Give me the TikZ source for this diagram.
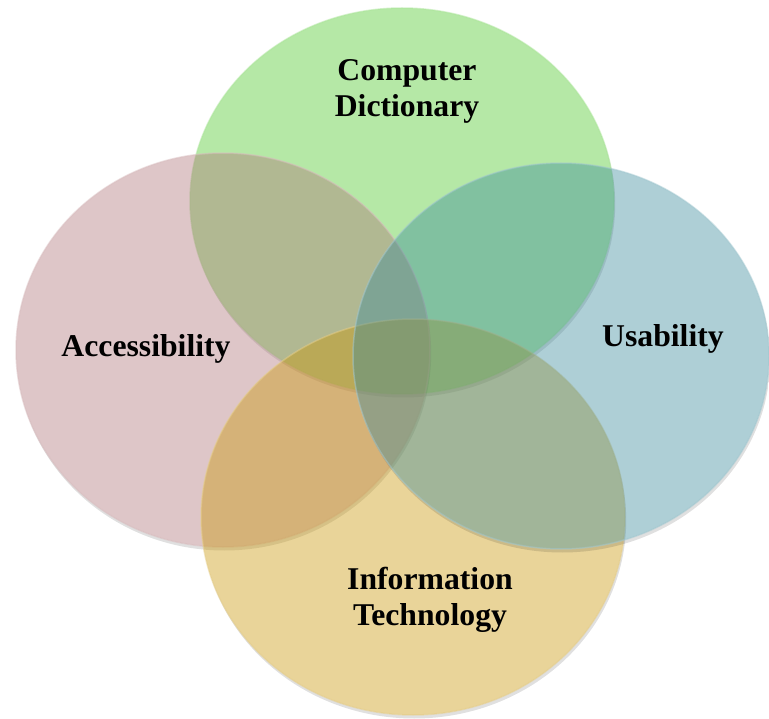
\documentclass[tikz,border=0pt]{standalone}
\usepackage{fontspec}
\setmainfont{Liberation Serif}
\definecolor{dictgreen}{RGB}{70,198,33}
\definecolor{accpink}{RGB}{173,113,118}
\definecolor{usablue}{RGB}{53,135,153}
\definecolor{infoyellow}{RGB}{200,148,0}
\tikzset{
  setfill/.style={fill=#1, fill opacity=0.4, draw=#1!45!white, draw opacity=0.5, line width=1.5pt},
  vennlabel/.style={font=\fontsize{31.7}{36}\selectfont\bfseries, align=center, inner sep=0pt, text=black},
}
% one set: colour, centre x, centre y, x radius, y radius
\newcommand\vennset[5]{%
  \begin{scope}
    \clip (#2+1.2,#3+3.5) ellipse [x radius=#4, y radius=#5];
    \fill[black, opacity=0.12, even odd rule] (-10,-10) rectangle (780,730)
      (#2,#3) ellipse [x radius=#4, y radius=#5];
  \end{scope}
  \path[setfill=#1] (#2,#3) ellipse [x radius=#4, y radius=#5];
}
\begin{document}
\begin{tikzpicture}[x=1pt, y=-1pt]
  \fill[white] (0,0) rectangle (769,719);
  \useasboundingbox (0,0) rectangle (769,719);
  \vennset{dictgreen}{402}{201}{212}{193}
  \vennset{accpink}{223}{350}{207}{197}
  \vennset{infoyellow}{413}{517}{212}{198}
  \vennset{usablue}{561}{356}{208}{193}
  \node[vennlabel, anchor=base] (dict) at (407,117) {Computer\\Dictionary};
  \node[vennlabel, anchor=base] (acc) at (146,357) {Accessibility};
  \node[vennlabel, anchor=base] (usa) at (663,347) {Usability};
  \node[vennlabel, anchor=base] (info) at (430,625) {Information\\Technology};
\end{tikzpicture}
\end{document}
